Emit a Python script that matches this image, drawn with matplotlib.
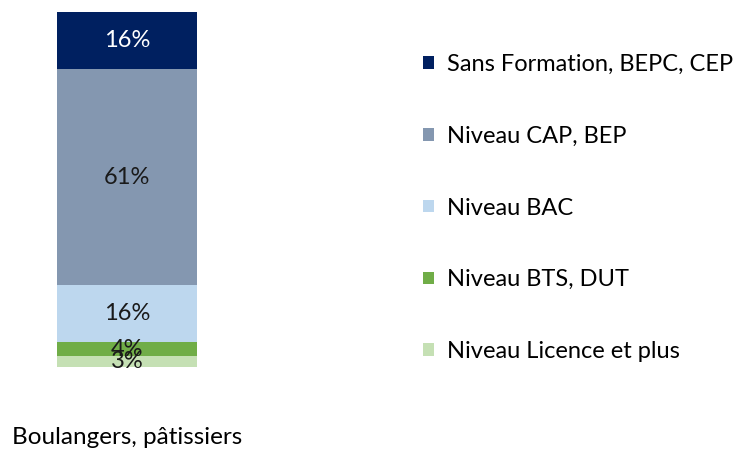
import matplotlib
matplotlib.use("Agg")
import matplotlib.pyplot as plt
from matplotlib.patches import Patch

plt.rcParams['font.family'] = ['Lato', 'DejaVu Sans']

categories = ["Boulangers, pâtissiers"]
series_names = ["Sans Formation, BEPC, CEP", "Niveau CAP, BEP", "Niveau BAC",
                "Niveau BTS, DUT", "Niveau Licence et plus"]
values = [16, 61, 16, 4, 3]  # top to bottom
colors = ["#002060", "#8497B0", "#BDD7EE", "#70AD47", "#C5E0B4"]
label_colors = ["white", "#1a1a1a", "#1a1a1a", "#1a1a1a", "#1a1a1a"]

fig = plt.figure(figsize=(7.38, 4.53), dpi=100)
W, H = 738, 453
ax = fig.add_axes([57 / W, 1 - 367 / H, 140 / W, (367 - 12.3) / H])

# stack from bottom: reverse order
order = list(range(len(values)))[::-1]
bottom = 0
for i in order:
    ax.bar(0, values[i], width=1.0, bottom=bottom, color=colors[i], edgecolor='none')
    ax.text(0, bottom + values[i] / 2, f"{values[i]}%", ha='center', va='center',
            color=label_colors[i], fontsize=17)
    bottom += values[i]

ax.set_xlim(-0.5, 0.5)
ax.set_ylim(0, sum(values))
ax.set_xticks([0])
ax.set_xticklabels(categories, fontsize=17.5)
ax.tick_params(axis='x', length=0, pad=43)
ax.set_yticks([])
for s in ax.spines.values():
    s.set_visible(False)

handles = [Patch(facecolor=c, edgecolor='none') for c in colors]
fig.legend(handles, series_names, loc='upper left', bbox_to_anchor=(423 / W, 1 - 54 / H),
           frameon=False, fontsize=17, labelspacing=2.15, handlelength=0.45, handleheight=0.45,
           handletextpad=0.55, borderpad=0, borderaxespad=0)

fig.savefig("out.png", dpi=100)
